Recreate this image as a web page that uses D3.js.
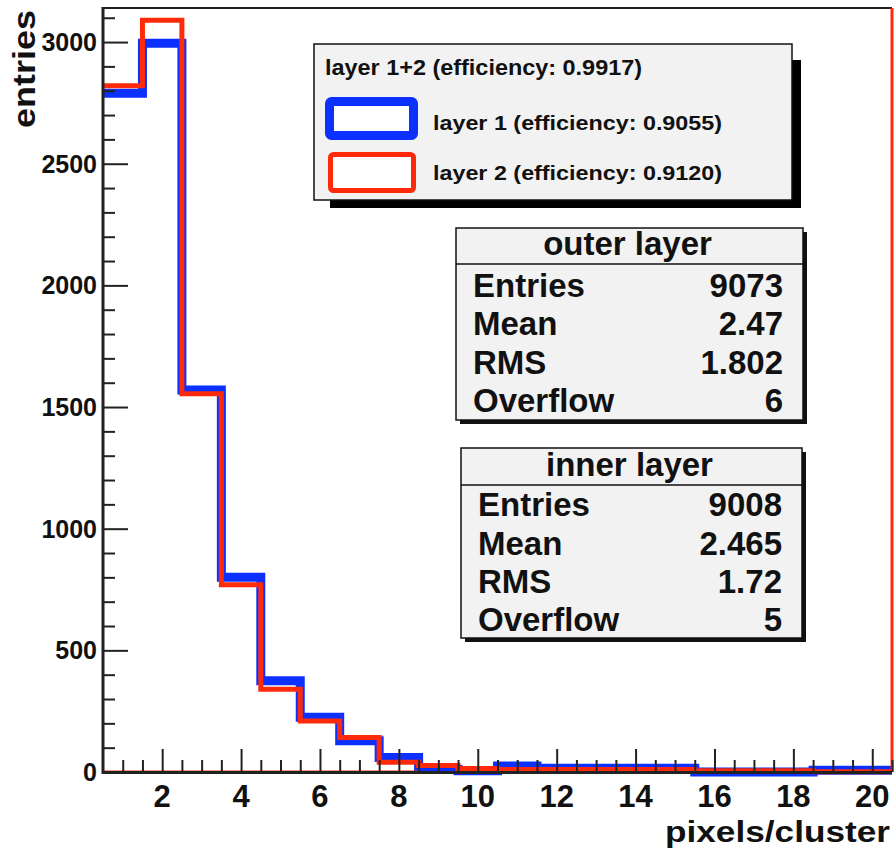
<!DOCTYPE html>
<html><head><meta charset="utf-8">
<script src="https://cdn.jsdelivr.net/npm/d3@7/dist/d3.min.js"></script>
<style>
html,body{margin:0;padding:0;background:#fff;}
text{font-family:"Liberation Sans",Arial,Helvetica,sans-serif;font-weight:bold;fill:#111;}
</style></head>
<body><div id="chart"></div>
<script>
// ---- data ----
const binCenters = d3.range(1, 21);               // pixels/cluster bins 1..20
const blueVals = [2790, 2995, 1570, 800, 375, 225, 128, 60, 10, 5, 25, 15, 15, 15, 15, 0, 0, 0, 7, 7];
const redVals  = [2820, 3090, 1555, 770, 340, 210, 142, 40, 27, 14, 10, 10, 10, 10, 10, 5, 5, 5, 1, 1];
const xTicksMajor = [2, 4, 6, 8, 10, 12, 14, 16, 18, 20];
const yTicksMajor = [0, 500, 1000, 1500, 2000, 2500, 3000];
const xDomain = [0.5, 20.5];
const yDomain = [0, 3140];
const redBaseline = [0.5, 8.5];
const legendHeader = "layer 1+2 (efficiency: 0.9917)";
const legendEntries = ["layer 1 (efficiency: 0.9055)", "layer 2 (efficiency: 0.9120)"];
const statLabels = ["Entries", "Mean", "RMS", "Overflow"];
const outerStats = ["9073", "2.47", "1.802", "6"];
const innerStats = ["9008", "2.465", "1.72", "5"];

const W = 895, H = 855;
const blue = "#0b30ff", red = "#ff2a0a";
const L = 103, R = 892, T = 8, B = 772;

const svg = d3.select("#chart").append("svg").attr("width", W).attr("height", H);
svg.append("rect").attr("width", W).attr("height", H).attr("fill", "#fff");

const x = d3.scaleLinear().domain(xDomain).range([L, R]);
const y = d3.scaleLinear().domain(yDomain).range([B, T]);

// histogram step paths
function stepPts(vals) {
  const pts = vals.map((v, i) => [binCenters[i] - 0.5, v]);
  pts.push([binCenters[binCenters.length - 1] + 0.5, vals[vals.length - 1]]);
  return pts;
}
const line = d3.line().x(d => x(d[0])).y(d => y(d[1])).curve(d3.curveStepAfter);

svg.append("path").attr("d", line(stepPts(blueVals)))
  .attr("fill", "none").attr("stroke", blue).attr("stroke-width", 9).attr("stroke-linejoin", "miter");
svg.append("line").attr("x1", x(redBaseline[0])).attr("x2", x(redBaseline[1]))
  .attr("y1", y(0)).attr("y2", y(0)).attr("stroke", red).attr("stroke-width", 3);
svg.append("path").attr("d", line(stepPts(redVals)))
  .attr("fill", "none").attr("stroke", red).attr("stroke-width", 5).attr("stroke-linejoin", "miter");

// frame
svg.append("line").attr("x1", L).attr("x2", R).attr("y1", T).attr("y2", T).attr("stroke", "#222").attr("stroke-width", 2);
svg.append("line").attr("x1", R).attr("x2", R).attr("y1", T).attr("y2", B).attr("stroke", red).attr("stroke-width", 3);

// x axis (ticks pointing up, inside)
const xMinor = d3.range(1, 20.51, 0.5).filter(v => xTicksMajor.indexOf(v) < 0);
const xAxisMinor = d3.axisTop(x).tickValues(xMinor).tickSize(12).tickFormat("");
const xAxisMajor = d3.axisTop(x).tickValues(xTicksMajor).tickSize(23).tickFormat("");
[xAxisMinor, xAxisMajor].forEach(ax => {
  const g = svg.append("g").attr("transform", `translate(0,${B})`).call(ax);
  g.select(".domain").remove();
  g.selectAll("line").attr("stroke", "#222").attr("stroke-width", 2);
});
svg.append("line").attr("x1", L).attr("x2", R).attr("y1", B + 0.5).attr("y2", B + 0.5).attr("stroke", "#222").attr("stroke-width", 3);
svg.append("g").selectAll("text").data(xTicksMajor).join("text")
  .attr("x", d => x(d)).attr("y", 807).attr("text-anchor", "middle")
  .attr("font-size", 31).text(d => d);

// y axis (ticks pointing right, inside)
const yMinor = d3.range(100, 3101, 100).filter(v => yTicksMajor.indexOf(v) < 0);
const yAxisMinor = d3.axisRight(y).tickValues(yMinor).tickSize(12).tickFormat("");
const yAxisMajor = d3.axisRight(y).tickValues(yTicksMajor).tickSize(25).tickFormat("");
[yAxisMinor, yAxisMajor].forEach(ax => {
  const g = svg.append("g").attr("transform", `translate(${L},0)`).call(ax);
  g.select(".domain").remove();
  g.selectAll("line").attr("stroke", "#222").attr("stroke-width", 2);
});
svg.append("line").attr("x1", L).attr("x2", L).attr("y1", T - 1).attr("y2", B + 2).attr("stroke", "#222").attr("stroke-width", 3);
svg.append("g").selectAll("text").data(yTicksMajor).join("text")
  .attr("x", 97).attr("y", d => y(d)).attr("dy", "0.36em").attr("text-anchor", "end")
  .attr("font-size", 25).text(d => d);

// axis titles
svg.append("text").attr("x", 890).attr("y", 842).attr("text-anchor", "end")
  .attr("font-size", 30).attr("textLength", 225).attr("lengthAdjust", "spacingAndGlyphs").text("pixels/cluster");
svg.append("text").attr("transform", "translate(35,10) rotate(-90)").attr("text-anchor", "end")
  .attr("font-size", 32).attr("textLength", 118).attr("lengthAdjust", "spacingAndGlyphs").text("entries");

// legend
const lg = {x: 314, y: 44, w: 478, h: 156};
svg.append("rect").attr("x", lg.x + 16).attr("y", lg.y + 16).attr("width", lg.w - 7).attr("height", lg.h - 8).attr("fill", "#000");
svg.append("rect").attr("x", lg.x).attr("y", lg.y).attr("width", lg.w).attr("height", lg.h)
  .attr("fill", "#f2f2f2").attr("stroke", "#111").attr("stroke-width", 1.5);
svg.append("text").attr("x", 325).attr("y", 75).attr("font-size", 22)
  .attr("textLength", 317).attr("lengthAdjust", "spacingAndGlyphs").text(legendHeader);
svg.append("rect").attr("x", 329.5).attr("y", 101.5).attr("width", 84).attr("height", 34).attr("rx", 2)
  .attr("fill", "#fff").attr("stroke", blue).attr("stroke-width", 9);
svg.append("rect").attr("x", 330.5).attr("y", 154.5).attr("width", 83).attr("height", 36).attr("rx", 3)
  .attr("fill", "#fff").attr("stroke", red).attr("stroke-width", 5);
legendEntries.forEach((t, i) => {
  svg.append("text").attr("x", 433).attr("y", 130 + i * 50).attr("font-size", 21)
    .attr("textLength", 289).attr("lengthAdjust", "spacingAndGlyphs").text(t);
});

// stat boxes
function statBox(bx, by, bw, bh, sep, title, vals, rows) {
  svg.append("rect").attr("x", bx + 4).attr("y", by + 4).attr("width", bw).attr("height", bh).attr("fill", "#111");
  svg.append("rect").attr("x", bx).attr("y", by).attr("width", bw).attr("height", bh)
    .attr("fill", "#f2f2f2").attr("stroke", "#111").attr("stroke-width", 1.5);
  svg.append("line").attr("x1", bx).attr("x2", bx + bw).attr("y1", sep).attr("y2", sep).attr("stroke", "#111").attr("stroke-width", 1.5);
  svg.append("text").attr("x", bx + bw / 2 - 2).attr("y", sep - 9).attr("text-anchor", "middle").attr("font-size", 33).text(title);
  statLabels.forEach((lab, i) => {
    svg.append("text").attr("x", bx + 17).attr("y", rows[i]).attr("font-size", 33).text(lab);
    svg.append("text").attr("x", bx + bw - 20).attr("y", rows[i]).attr("text-anchor", "end").attr("font-size", 33).text(vals[i]);
  });
}
statBox(456, 228, 347, 192, 264, "outer layer", outerStats, [297, 335, 374, 412]);
statBox(461, 448, 341, 190, 485, "inner layer", innerStats, [516, 555, 593, 631]);
</script></body></html>
